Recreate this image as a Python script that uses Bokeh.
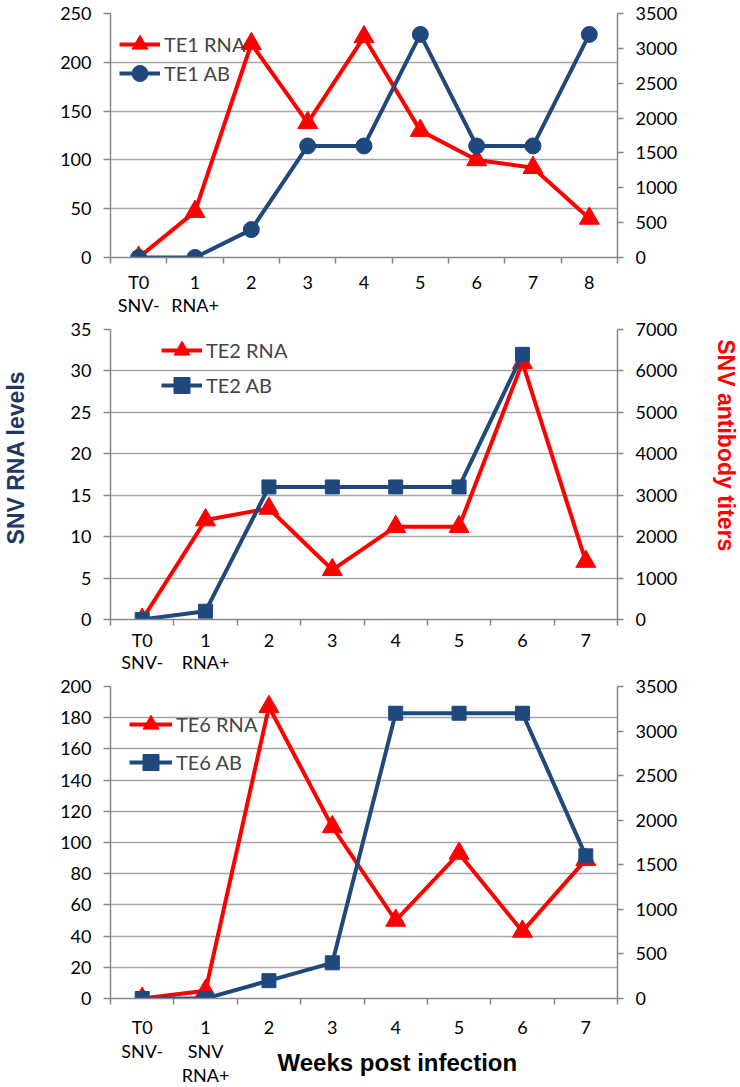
import math
from bokeh.plotting import figure
from bokeh.models import (Range1d, LinearAxis, FixedTicker, SingleIntervalTicker,
                          Legend, LegendItem, Label)
from bokeh.layouts import column, row
from bokeh.embed import file_html
from bokeh.resources import INLINE

# ---------------- data ----------------
weeks_te1 = ["T0\nSNV-", "1\nRNA+", "2", "3", "4", "5", "6", "7", "8"]
te1_rna = [0, 47, 219, 138, 226, 130, 100, 92, 40]
te1_ab = [0, 0, 400, 1600, 1600, 3200, 1600, 1600, 3200]

weeks_te2 = ["T0\nSNV-", "1\nRNA+", "2", "3", "4", "5", "6", "7"]
te2_rna = [0, 12, 13.4, 6, 11.2, 11.2, 31, 7]
te2_ab = [0, 200, 3200, 3200, 3200, 3200, 6400]

weeks_te6 = ["T0\nSNV-", "1\nSNV\nRNA+", "2", "3", "4", "5", "6", "7"]
te6_rna = [0, 5, 187, 110, 50, 93, 43, 89]
te6_ab = [0, 0, 200, 400, 3200, 3200, 3200, 1600]

# ---------------- style ----------------
FONT = "Lato"
TFONT = "Liberation Sans"
RED = "#FF0000"
BLUE = "#1F497D"
NAVY = "#1F3864"
AXIS = "#868686"
GRID = "#A6A6A6"
LEFT_W = 30
RIGHT_W = 34
PW = 675
H1, H2, H3 = 318, 357, 411
TOTAL_H = H1 + H2 + H3
LEG_GH = 40


def style_axis(ax):
    ax.axis_line_color = AXIS
    ax.axis_line_width = 1.5
    ax.major_tick_line_color = AXIS
    ax.major_tick_line_width = 1.5
    ax.minor_tick_line_color = None
    ax.major_label_text_font = FONT
    ax.major_label_text_font_size = "18px"
    ax.major_label_text_color = "#000000"


def legend_entry(p, label, renderers, loc, glyph_w):
    leg = Legend(items=[LegendItem(label=label, renderers=renderers)],
                 location=loc, orientation="vertical",
                 background_fill_alpha=0, border_line_color=None,
                 padding=0, margin=0, spacing=0,
                 glyph_width=glyph_w, glyph_height=LEG_GH,
                 label_height=20, label_standoff=4, label_text_font=FONT,
                 label_text_font_size="20px")
    p.add_layout(leg)


def panel(cats, rna, ab, rna_name, ab_name, ab_marker, ab_size,
          ymax, ystep, abmax, abstep, height, left, right, top, bottom,
          lab_standoff, lab_lh, leg_x, leg_y1, leg_y2, leg_glyph_w):
    n = len(cats)
    p = figure(width=PW, height=height, x_range=Range1d(-0.5, n - 0.5),
               y_range=Range1d(0, ymax), output_backend="svg",
               toolbar_location=None, min_border_left=left,
               min_border_right=right, min_border_top=top,
               min_border_bottom=bottom)
    p.extra_y_ranges = {"ab": Range1d(0, abmax)}
    p.outline_line_color = None
    p.xgrid.visible = False
    p.ygrid.grid_line_color = GRID
    p.ygrid.grid_line_width = 1.5

    xa = p.xaxis[0]
    style_axis(xa)
    xa.ticker = FixedTicker(ticks=list(range(n)),
                            minor_ticks=[i - 0.5 for i in range(n + 1)])
    xa.major_label_overrides = {i: c for i, c in enumerate(cats)}
    xa.major_tick_line_color = None
    xa.major_tick_out = 0
    xa.major_tick_in = 0
    xa.minor_tick_line_color = AXIS
    xa.minor_tick_line_width = 1.5
    xa.minor_tick_out = 6
    xa.minor_tick_in = 0
    xa.major_label_standoff = lab_standoff
    xa.major_label_text_line_height = lab_lh

    ya = p.yaxis[0]
    style_axis(ya)
    ya.ticker = SingleIntervalTicker(interval=ystep, num_minor_ticks=0)
    ya.major_tick_out = 7
    ya.major_tick_in = 0
    ya.major_label_standoff = 12

    ra = LinearAxis(y_range_name="ab",
                    ticker=SingleIntervalTicker(interval=abstep, num_minor_ticks=0))
    style_axis(ra)
    ra.major_tick_out = 6
    ra.major_tick_in = 0
    ra.major_label_standoff = 12
    p.add_layout(ra, "right")

    xr = list(range(len(rna)))
    xb = list(range(len(ab)))
    l1 = p.line(xr, rna, line_color=RED, line_width=4)
    m1 = p.scatter(xr, rna, marker="triangle", size=20, fill_color=RED,
                   line_color=RED)
    l2 = p.line(xb, ab, line_color=BLUE, line_width=4, y_range_name="ab")
    m2 = p.scatter(xb, ab, marker=ab_marker, size=ab_size, fill_color=BLUE,
                   line_color=BLUE, y_range_name="ab")

    legend_entry(p, rna_name, [l1, m1], (leg_x, leg_y1), leg_glyph_w)
    legend_entry(p, ab_name, [l2, m2], (leg_x, leg_y2), leg_glyph_w)
    return p


p1 = panel(weeks_te1, te1_rna, te1_ab, "TE1 RNA", "TE1 AB", "circle", 16,
           250, 50, 3500, 500, H1, 78, 88, 13, 61, 7, 1.05,
           9, 193, 164, 41)
p2 = panel(weeks_te2, te2_rna, te2_ab, "TE2 RNA", "TE2 AB", "square", 14,
           35, 5, 7000, 1000, H2, 80, 88, 11, 56, 3, 1.0,
           51, 249, 214, 41)
p3 = panel(weeks_te6, te6_rna, te6_ab, "TE6 RNA", "TE6 AB", "square", 14,
           200, 20, 3500, 500, H3, 80, 81, 11, 88, 11, 1.1,
           19, 254, 216, 43)

# x-axis title of the bottom panel, sitting beside the multi-line tick labels
xa3 = p3.xaxis[0]
xa3.axis_label = "\u00a0" * 10 + "Weeks post infection"
xa3.axis_label_text_font = TFONT
xa3.axis_label_text_font_style = "bold"
xa3.axis_label_text_font_size = "24px"
xa3.axis_label_text_color = "#000000"
xa3.axis_label_standoff = -40


def strip(width, x, y, text, angle, color):
    s = figure(width=width, height=TOTAL_H, x_range=Range1d(0, width),
               y_range=Range1d(TOTAL_H, 0), output_backend="svg",
               toolbar_location=None, x_axis_location=None,
               y_axis_location=None, min_border=0)
    s.outline_line_color = None
    s.grid.visible = False
    s.add_layout(Label(x=x, y=y, text=text, angle=angle,
                       text_align="center", text_baseline="middle",
                       text_font=TFONT, text_font_style="bold",
                       text_font_size="23px", text_color=color))
    return s


left_strip = strip(LEFT_W, 15, 457, "SNV RNA levels", math.pi / 2, NAVY)
right_strip = strip(RIGHT_W, 20, 448, "SNV  antibody titers", -math.pi / 2, RED)

layout = row(left_strip, column(p1, p2, p3, spacing=0), right_strip, spacing=0)
open("out.html", "w").write(file_html(layout, INLINE))
